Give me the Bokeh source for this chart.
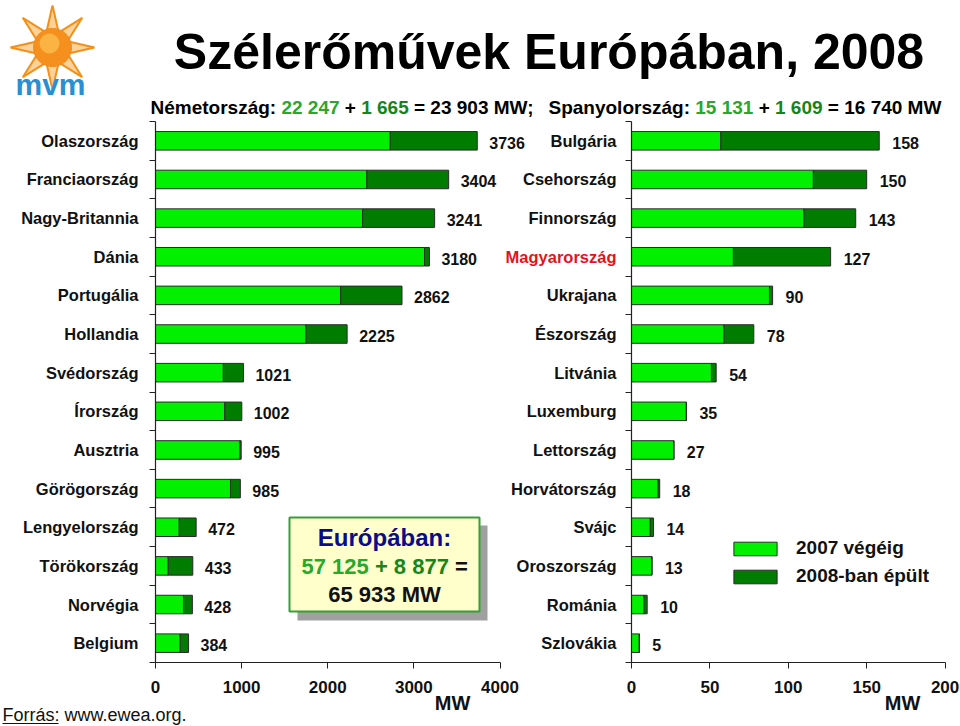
import math
from bokeh.plotting import figure
from bokeh.models import ColumnDataSource, Range1d, FixedTicker
from bokeh.layouts import column, row
from bokeh.embed import file_html
from bokeh.resources import INLINE
from bokeh.core.properties import value

# ---------------- DATA ----------------
left_countries = ["Olaszország", "Franciaország", "Nagy-Britannia", "Dánia", "Portugália",
                  "Hollandia", "Svédország", "Írország", "Ausztria", "Görögország",
                  "Lengyelország", "Törökország", "Norvégia", "Belgium"]
left_2007 = [2726, 2454, 2405, 3124, 2150, 1747, 788, 805, 982, 871, 276, 147, 325, 287]
left_2008 = [1010, 950, 836, 56, 712, 478, 233, 197, 13, 114, 196, 286, 103, 97]

right_countries = ["Bulgária", "Csehország", "Finnország", "Magyarország", "Ukrajana",
                   "Észország", "Litvánia", "Luxemburg", "Lettország", "Horvátország",
                   "Svájc", "Oroszország", "Románia", "Szlovákia"]
right_2007 = [57, 116, 110, 65, 88, 59, 51, 35, 27, 17, 12, 13, 8, 5]
right_2008 = [101, 34, 33, 62, 2, 19, 3, 0, 0, 1, 2, 0, 2, 0]

left_ticks = [0, 1000, 2000, 3000, 4000]
right_ticks = [0, 50, 100, 150, 200]
series_names = ["2007 végéig", "2008-ban épült"]
highlight_country = "Magyarország"

# ---------------- STYLE ----------------
FONT = "Liberation Sans"
LIGHT = "#00f000"
DARK = "#007d00"
GREEN1 = "#29a829"
GREEN2 = "#16851a"
INK = "#111111"

W, H = 960, 726
HEADER_H = 120
PANEL_H = H - HEADER_H
FRAME_TOP = 121
FRAME_BOT = 662
NROWS = len(left_countries)
ROW_PX = (FRAME_BOT - FRAME_TOP) / NROWS

L_W = 530
L_FRAME_L = 155
PPU_L = (499 - 154.5) / 4000.0
R_X0 = 500
R_W = W - R_X0
R_FRAME_L = 631
PPU_R = (944.3 - 630.7) / 200.0

# Arial/Liberation Sans Bold advance widths (1/1000 em) for laying out multi-coloured text
BW = {" ": 278, ":": 333, ";": 333, "+": 584, "=": 584, "M": 833, "W": 944, "N": 722, "S": 667,
      "é": 556, "m": 889, "e": 556, "t": 333, "o": 611, "r": 389, "s": 556, "z": 500, "á": 556,
      "g": 611, "p": 611, "a": 556, "n": 611, "y": 556, "l": 278}


def bold_width(s, size):
    return sum(BW.get(ch, 556) for ch in s) * size / 1000.0


def make_panel(width, frame_left, ppu):
    xmax = (width - frame_left) / ppu
    p = figure(width=width, height=PANEL_H, output_backend="svg", toolbar_location=None,
               x_range=Range1d(0, xmax), y_range=Range1d(NROWS - 0.5, -0.5),
               min_border_left=frame_left, min_border_right=0,
               min_border_top=FRAME_TOP - HEADER_H, min_border_bottom=H - FRAME_BOT)
    p.outline_line_color = None
    p.xgrid.visible = False
    p.ygrid.visible = False
    p.background_fill_alpha = 0
    p.border_fill_alpha = 0
    return p


def add_bars(p, countries, v07, v08, x_off, legend=None):
    totals = [a + b for a, b in zip(v07, v08)]
    src = ColumnDataSource(dict(pos=list(range(len(countries))), a=v07, b=v08, total=totals,
                                lbl=[str(t) for t in totals]))
    kw = dict(legend_label=legend) if legend else {}
    p.hbar_stack(["a", "b"], y="pos", height=0.48, color=[LIGHT, DARK], line_color="#2a2a2a",
                 line_width=1, source=src, **kw)
    p.text(x="total", y="pos", text="lbl", x_offset=x_off, y_offset=2, source=src,
           text_align="left", text_baseline="middle", text_font=value(FONT),
           text_font_style="bold", text_font_size="16px", text_color=INK)


def style_axes(p, countries, ticks, standoff, overrides):
    pos = list(range(len(countries)))
    ya = p.yaxis[0]
    ya.ticker = FixedTicker(ticks=pos, minor_ticks=[i - 0.5 for i in range(len(countries) + 1)])
    ya.major_label_overrides = overrides
    ya.major_tick_line_color = None
    ya.major_tick_in = 0
    ya.major_tick_out = 0
    ya.minor_tick_line_color = "#222222"
    ya.minor_tick_in = 0
    ya.minor_tick_out = 6
    ya.axis_line_color = "#222222"
    ya.axis_line_width = 1.2
    ya.major_label_standoff = standoff
    ya.major_label_text_font = FONT
    ya.major_label_text_font_style = "bold"
    ya.major_label_text_font_size = "16.5px"
    ya.major_label_text_color = INK

    xa = p.xaxis[0]
    xa.ticker = FixedTicker(ticks=ticks)
    xa.bounds = (ticks[0], ticks[-1])
    xa.major_tick_in = 0
    xa.major_tick_out = 6
    xa.major_tick_line_color = "#222222"
    xa.minor_tick_line_color = None
    xa.axis_line_color = "#222222"
    xa.axis_line_width = 1.2
    xa.major_label_standoff = 12
    xa.major_label_text_font = FONT
    xa.major_label_text_font_style = "bold"
    xa.major_label_text_font_size = "17px"
    xa.major_label_text_color = INK


def txt(p, x, y, s, size, color=INK, align="left", baseline="middle", style="bold"):
    p.text(x=[x], y=[y], text=[s], text_align=align, text_baseline=baseline,
           text_font=value(FONT), text_font_style=style, text_font_size=f"{size}px", text_color=color)


def multicolor(p, x0, y, pieces, size, baseline="alphabetic"):
    # spaces are collapsed by SVG, so draw stripped pieces at positions that include them
    x = x0
    for s, col in pieces:
        lead = len(s) - len(s.lstrip(" "))
        txt(p, x + bold_width(" " * lead, size), y, s.strip(" "), size, col, "left", baseline)
        x += bold_width(s, size)


# ---------------- HEADER ----------------
h = figure(width=W, height=HEADER_H, output_backend="svg", toolbar_location=None,
           x_range=Range1d(0, W), y_range=Range1d(HEADER_H, 0),
           x_axis_location=None, y_axis_location=None,
           min_border_left=0, min_border_right=0, min_border_top=0, min_border_bottom=0)
h.outline_line_color = None
h.xgrid.visible = False
h.ygrid.visible = False

# logo: sun with rays + "mvm"
cx, cy = 52, 47
ray_xs, ray_ys = [], []
for k in range(8):
    a = math.radians(k * 45)
    tip = (cx + 42 * math.sin(a), cy - 42 * math.cos(a))
    b1 = (cx + 16 * math.sin(a - 0.4), cy - 16 * math.cos(a - 0.4))
    b2 = (cx + 16 * math.sin(a + 0.4), cy - 16 * math.cos(a + 0.4))
    ray_xs.append([b1[0], tip[0], b2[0]])
    ray_ys.append([b1[1], tip[1], b2[1]])
h.patches(ray_xs, ray_ys, fill_color="#fcd29a", line_color="#f39019", line_width=2)
h.circle(x=[cx], y=[cy], radius=19, fill_color="#f5901e", line_color="#f08a1a")
h.circle(x=[cx - 3], y=[cy - 4], radius=10, fill_color="#fdbb4d", line_color=None, fill_alpha=0.8)
txt(h, 50, 84, "mvm", 30, "#2a8fd2", "center", "alphabetic")

txt(h, 548.5, 51, "Szélerőművek Európában, 2008", 50, "#000000", "center", "alphabetic")

multicolor(h, 150, 107, [("Németország: ", "#000000"), ("22 247", GREEN1), (" + ", "#000000"),
                         ("1 665", GREEN2), (" = 23 903 MW;", "#000000")], 19)
multicolor(h, 548, 107, [("Spanyolország: ", "#000000"), ("15 131", GREEN1), (" + ", "#000000"),
                         ("1 609", GREEN2), (" = 16 740 MW", "#000000")], 19)

# ---------------- LEFT PANEL ----------------
pl = make_panel(L_W, L_FRAME_L, PPU_L)
add_bars(pl, left_countries, left_2007, left_2008, 12)
style_axes(pl, left_countries, left_ticks, 11, {i: c for i, c in enumerate(left_countries)})

# ---------------- RIGHT PANEL ----------------
pr = make_panel(R_W, R_FRAME_L - R_X0, PPU_R)
pr.margin = (0, 0, 0, -(L_W - R_X0))
add_bars(pr, right_countries, right_2007, right_2008, 13, legend=series_names)
style_axes(pr, right_countries, right_ticks, 9,
           {i: ("" if c == highlight_country else c) for i, c in enumerate(right_countries)})

leg = pr.legend[0]
leg.location = (97, 75)
leg.padding = 0
leg.margin = 0
leg.spacing = 6
leg.border_line_color = None
leg.background_fill_alpha = 0
leg.glyph_width = 54
leg.glyph_height = 17
leg.label_height = 17
leg.label_standoff = 14
leg.label_text_font = FONT
leg.label_text_font_style = "bold"
leg.label_text_font_size = "19px"
leg.label_text_color = INK

# ---------------- OVERLAY (free texts, in page pixels) ----------------
ov = figure(width=W, height=H, output_backend="svg", toolbar_location=None,
            x_range=Range1d(0, W), y_range=Range1d(H, 0),
            x_axis_location=None, y_axis_location=None,
            min_border_left=0, min_border_right=0, min_border_top=0, min_border_bottom=0)
ov.outline_line_color = None
ov.xgrid.visible = False
ov.ygrid.visible = False
ov.background_fill_alpha = 0
ov.border_fill_alpha = 0
ov.margin = (-H, 0, 0, 0)

hi = right_countries.index(highlight_country)
txt(ov, 616, FRAME_TOP + (hi + 0.5) * ROW_PX, highlight_country, 16.5, "#e3141c", "right")
txt(ov, 452, 702, "MW", 20, INK, "center")
txt(ov, 902, 702, "MW", 20, INK, "center")
txt(ov, 2, 714, "Forrás: www.ewea.org.", 18, INK, "left", "middle", "normal")
ov.segment(x0=[2], y0=[723], x1=[58], y1=[723], line_color=INK, line_width=1.2)

# info box
ov.quad(left=[297], right=[487], top=[525], bottom=[620], fill_color="#a0a0a0", line_color=None)
ov.quad(left=[289], right=[479], top=[517], bottom=[611], fill_color="#ffffcc",
        line_color="#35a035", line_width=2)
txt(ov, 384, 537, "Európában:", 24, "#0b0b8a", "center")
multicolor(ov, 301, 566, [("57 125", GREEN1), (" + 8 877", GREEN2), (" =", INK)], 22, "middle")
txt(ov, 384, 594, "65 933 MW", 22, INK, "center")

pl.margin = 0
h.margin = 0
layout = column(h, row(pl, pr, margin=0), ov, margin=0)

open("out.html", "w").write(file_html(layout, INLINE))
